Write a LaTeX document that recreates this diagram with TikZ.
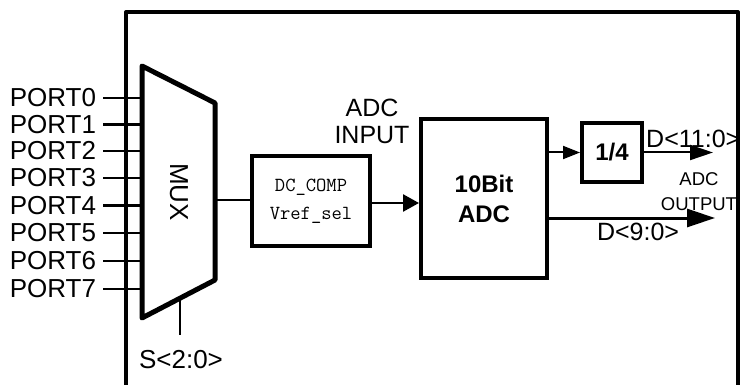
\documentclass[tikz,border=0pt]{standalone}
\usepackage{fontspec}
\setmainfont{Liberation Sans}
\usetikzlibrary{arrows.meta}
\begin{document}
\begin{tikzpicture}[x=1pt,y=-1pt,
  lbl/.style={font=\fontsize{25}{27}\selectfont, inner sep=0pt, align=center},
  portlbl/.style={font=\fontsize{26}{27}\selectfont, inner sep=0pt, outer xsep=7pt, anchor=east},
  blk/.style={draw, line width=4pt, inner sep=0pt, align=center},
  wire/.style={line width=2.5pt},
  thinwire/.style={line width=2pt},
  bigarrow/.style={line width=3pt, -{Triangle[length=28pt,width=18pt]}},
  midarrow/.style={line width=2pt, -{Triangle[length=23pt,width=15pt]}},
  smallarrow/.style={line width=2pt, -{Triangle[length=17pt,width=13pt]}},
  inarrow/.style={line width=2.5pt, -{Triangle[length=16pt,width=17pt]}}
]
\useasboundingbox (0,0) rectangle (742,385);
\fill[white] (0,0) rectangle (742,385);
% outer frame (open at the bottom)
\draw[line width=4pt, line join=round] (126,400) -- (126,12) -- (738,12) -- (738,400);

% MUX
\coordinate (m1) at (142,66);
\coordinate (m2) at (215,103);
\coordinate (m3) at (215,280);
\coordinate (m4) at (142,318);
\coordinate (mout) at (215,200);
\coordinate (msel) at (180,299);
\draw[line width=5pt, line join=round] (m1) -- (m2) -- (m3) -- (m4) -- cycle;
\node[lbl, font=\fontsize{26}{27}\selectfont, rotate=-90] (muxlbl) at (179,192) {MUX};

% ports
\foreach \i/\y in {0/98,1/124.5,2/151,3/178,4/205.5,5/233,6/261,7/289}{
  \node[portlbl] (p\i) at (103,\y) {PORT\i};
  \draw[wire] (p\i.east) -- (p\i.east -| m1);
}

% select
\node[lbl, font=\fontsize{26}{27}\selectfont] (sel) at (181,360) {S<2:0>};
\coordinate (selend) at (180,335);
\draw[thinwire] (msel) -- (selend);

% DC_COMP
\node[blk, minimum width=118pt, minimum height=89pt,
      font=\ttfamily\fontsize{20}{28}\selectfont] (dc) at (311,201) {DC\_COMP\\Vref\_sel};
\draw[wire] (mout) -- (mout -| dc.west);

% ADC
\node[blk, minimum width=126pt, minimum height=159pt,
      font=\bfseries\fontsize{24}{30}\selectfont] (adc) at (484,198.5) {10Bit\\ADC};
\draw[inarrow] ([yshift=-2pt]dc.east) -- ([yshift=-2pt]dc.east -| adc.west);
\node[lbl] (adcin) at (372,121) {ADC\\INPUT};

% 1/4
\node[blk, minimum width=60pt, minimum height=59pt,
      font=\bfseries\fontsize{24}{27}\selectfont] (q) at (612,152.5) {1/4};
\draw[smallarrow] (q.west -| adc.east) -- (q.west);

% outputs
\coordinate (o1) at (713,152.5);
\coordinate (o2) at (715,218);
\draw[midarrow] (q.east) -- (o1);
\draw[bigarrow] (o2 -| adc.east) -- (o2);
\node[lbl, anchor=base west] (d11) at (646,148) {D<11:0>};
\node[lbl] (d9) at (638,232) {D<9:0>};
\node[font=\fontsize{18.5}{25}\selectfont, inner sep=0pt, align=center] (adcout) at (699,192) {ADC\\OUTPUT};
\end{tikzpicture}
\end{document}
